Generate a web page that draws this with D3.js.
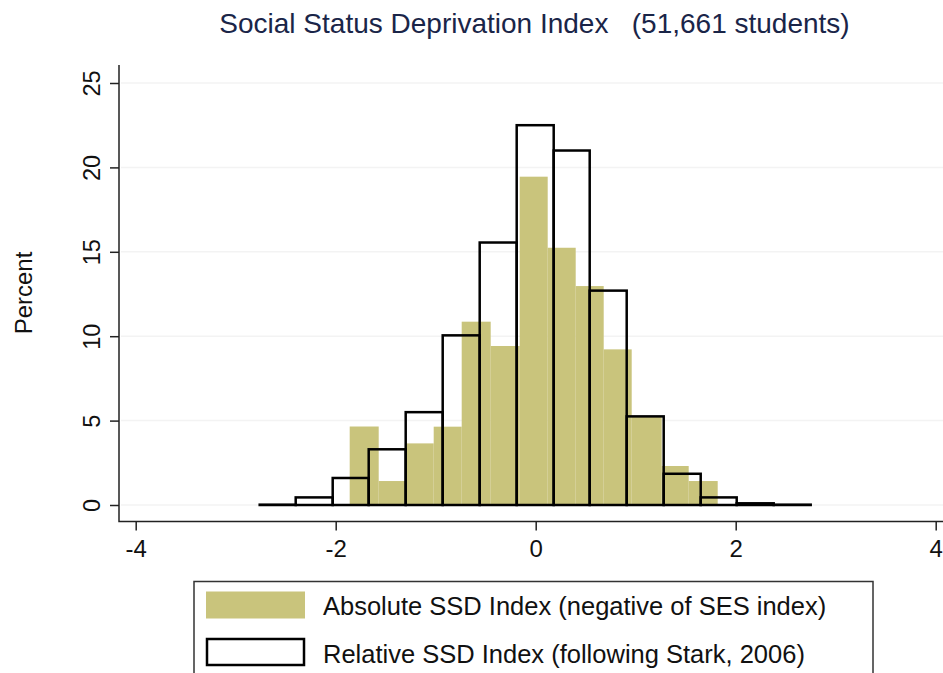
<!DOCTYPE html>
<html>
<head>
<meta charset="utf-8">
<script src="https://cdn.jsdelivr.net/npm/d3@7"></script>
<style>
  html, body { margin: 0; padding: 0; background: #fff; overflow: hidden; }
  text { font-family: "Liberation Sans", Arial, Helvetica, sans-serif; }
</style>
</head>
<body>
<div id="chart"></div>
<script>
// absolute SSD index (filled bars): bin edges and percent per bin
const absEdges = [-1.86, -1.57, -1.3, -1.02, -0.74, -0.45, -0.16, 0.12, 0.4, 0.68, 0.96, 1.26, 1.53, 1.82];
const absValues = [4.65, 1.42, 3.65, 4.64, 10.86, 9.42, 19.45, 15.24, 12.97, 9.22, 5.23, 2.31, 1.42];

// relative SSD index (outlined bars)
const relEdges = [-2.76, -2.4, -2.03, -1.67, -1.3, -0.93, -0.56, -0.19, 0.18, 0.54, 0.91, 1.28, 1.65, 2.01, 2.38, 2.75];
const relValues = [0.02, 0.45, 1.6, 3.3, 5.5, 10.05, 15.55, 22.5, 21.0, 12.7, 5.25, 1.85, 0.45, 0.1, 0.02];

const xTicks = [-4, -2, 0, 2, 4];
const yTicks = [0, 5, 10, 15, 20, 25];

const titleText = "Social Status Deprivation Index   (51,661 students)";
const yLabel = "Percent";
const legendLabels = [
  "Absolute SSD Index (negative of SES index)",
  "Relative SSD Index (following Stark, 2006)"
];

(() => {
  const width = 943;
  const height = 673;
  const fillColor = "#c9c47c";
  const axisColor = "#222";

  // plot region (Stata style: axes sit a bit away from the data range)
  const plot = { left: 119, right: 943, top: 65, bottom: 521.5 };

  const x = d3.scaleLinear().domain([-4, 4]).range([135.7, 935.7]);
  const y = d3.scaleLinear().domain([0, 25]).range([505, 83]);

  const svg = d3
    .select("#chart")
    .append("svg")
    .attr("width", width)
    .attr("height", height)
    .style("display", "block");

  svg.append("rect").attr("width", width).attr("height", height).attr("fill", "#fff");

  // faint grid lines
  svg
    .append("g")
    .selectAll("line")
    .data(yTicks)
    .join("line")
    .attr("x1", plot.left + 2)
    .attr("x2", plot.right)
    .attr("y1", (d) => y(d))
    .attr("y2", (d) => y(d))
    .attr("stroke", "#f3f3f3")
    .attr("stroke-width", 1.5);

  const absBins = absValues.map((v, i) => ({ x0: absEdges[i], x1: absEdges[i + 1], value: v }));
  const relBins = relValues.map((v, i) => ({ x0: relEdges[i], x1: relEdges[i + 1], value: v }));

  svg
    .append("g")
    .selectAll("rect")
    .data(absBins)
    .join("rect")
    .attr("x", (d) => x(d.x0))
    .attr("y", (d) => y(d.value))
    .attr("width", (d) => x(d.x1) - x(d.x0))
    .attr("height", (d) => y(0) - y(d.value))
    .attr("fill", fillColor);

  svg
    .append("g")
    .selectAll("rect")
    .data(relBins)
    .join("rect")
    .attr("x", (d) => x(d.x0))
    .attr("y", (d) => y(d.value))
    .attr("width", (d) => x(d.x1) - x(d.x0))
    .attr("height", (d) => y(0) - y(d.value))
    .attr("fill", "none")
    .attr("stroke", "#000")
    .attr("stroke-width", 2.5);

  // axes
  const yAxis = (g) => {
    g.attr("transform", `translate(${plot.left},0)`)
      .call(d3.axisLeft(y).tickValues(yTicks).tickSize(9).tickSizeOuter(0))
      .call((g) => g.select(".domain").remove());
    g.selectAll(".tick line").attr("stroke", axisColor).attr("stroke-width", 1.5);
    g.selectAll(".tick text")
      .attr("transform", "rotate(-90)")
      .attr("x", 0)
      .attr("y", -19)
      .attr("dy", 0)
      .attr("text-anchor", "middle")
      .attr("font-size", 23.5)
      .attr("fill", "#111");
  };

  const xAxis = (g) => {
    g.attr("transform", `translate(0,${plot.bottom})`)
      .call(
        d3.axisBottom(x)
          .tickValues(xTicks)
          .tickSize(9)
          .tickPadding(9.5)
          .tickFormat((d) => String(d))
      )
      .call((g) => g.select(".domain").remove());
    g.selectAll(".tick line").attr("stroke", axisColor).attr("stroke-width", 1.5);
    g.selectAll(".tick text").attr("font-size", 24).attr("fill", "#111");
  };

  svg.append("g").call(yAxis);
  svg.append("g").call(xAxis);

  svg
    .append("path")
    .attr("d", `M${plot.left},${plot.top}V${plot.bottom}H${plot.right}`)
    .attr("fill", "none")
    .attr("stroke", axisColor)
    .attr("stroke-width", 1.5);

  // titles
  svg
    .append("text")
    .attr("x", 534.5)
    .attr("y", 33)
    .attr("text-anchor", "middle")
    .attr("font-size", 28)
    .attr("fill", "#1a2548")
    .style("white-space", "pre")
    .text(titleText);

  svg
    .append("text")
    .attr("transform", "translate(32,293) rotate(-90)")
    .attr("text-anchor", "middle")
    .attr("font-size", 24)
    .attr("fill", "#111")
    .text(yLabel);

  // legend (runs off the bottom of the picture, as in the original)
  const legend = svg.append("g");
  legend
    .append("rect")
    .attr("x", 194)
    .attr("y", 581.5)
    .attr("width", 679)
    .attr("height", 140)
    .attr("fill", "#fff")
    .attr("stroke", "#333")
    .attr("stroke-width", 1.5);

  legend
    .append("rect")
    .attr("x", 206)
    .attr("y", 591.5)
    .attr("width", 99)
    .attr("height", 27)
    .attr("fill", fillColor);

  legend
    .append("rect")
    .attr("x", 207)
    .attr("y", 639)
    .attr("width", 97)
    .attr("height", 26)
    .attr("fill", "#fff")
    .attr("stroke", "#000")
    .attr("stroke-width", 2.5);

  legend
    .selectAll("text")
    .data(legendLabels)
    .join("text")
    .attr("x", 323)
    .attr("y", (d, i) => 615 + i * 47.5)
    .attr("font-size", 25.5)
    .attr("fill", "#111")
    .text((d) => d);
})();
</script>
</body>
</html>
